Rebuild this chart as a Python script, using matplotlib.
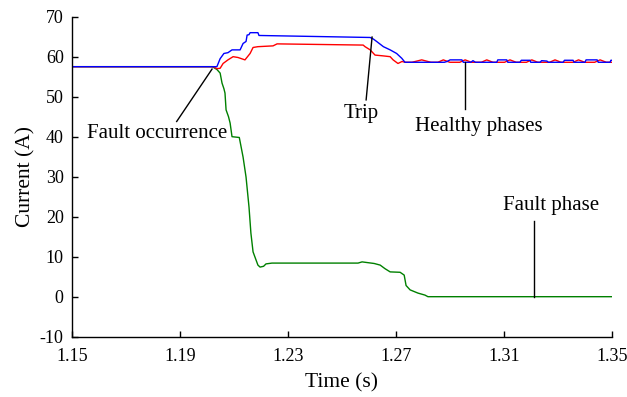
import matplotlib
matplotlib.use("Agg")
import matplotlib.pyplot as plt

plt.rcParams['font.family'] = ['Liberation Serif', 'DejaVu Serif']
plt.rcParams['axes.unicode_minus'] = False

# healthy phase A (blue)
t_blue = [1.15, 1.2037, 1.2049, 1.2063, 1.2078, 1.2093, 1.2123, 1.2134, 1.2145, 1.2149,
          1.2156, 1.2160, 1.2189, 1.2193, 1.2605, 1.2617, 1.2629, 1.2654, 1.2679, 1.2703,
          1.2722, 1.2734, 1.2880, 1.2890, 1.2901, 1.2945, 1.2950, 1.2978, 1.2986, 1.2995,
          1.3074, 1.3078, 1.3111, 1.3115, 1.3160, 1.3165, 1.3197, 1.3200, 1.3235, 1.3240,
          1.3260, 1.3265, 1.3320, 1.3325, 1.3357, 1.3360, 1.3401, 1.3405, 1.3446, 1.3450,
          1.3494, 1.3497, 1.3500]
i_blue = [57.5, 57.5, 59.5, 60.8, 61.0, 61.7, 61.7, 63.3, 63.8, 65.4,
          65.5, 66.0, 66.0, 65.3, 64.8, 64.4, 63.8, 62.5, 61.7, 60.8,
          59.6, 58.6, 58.6, 58.8, 59.2, 59.2, 58.6, 58.6, 59.0, 58.6,
          58.6, 59.2, 59.2, 58.6, 58.6, 59.1, 59.1, 58.6, 58.6, 59.0,
          58.9, 58.6, 58.6, 59.1, 59.1, 58.6, 58.6, 59.2, 59.2, 58.6,
          58.6, 59.1, 59.1]

# healthy phase B (red)
t_red = [1.15, 1.2023, 1.2037, 1.2049, 1.2060, 1.2078, 1.2097, 1.2115, 1.2141, 1.2160,
         1.2171, 1.2189, 1.2245, 1.2260, 1.2579, 1.2586, 1.2605, 1.2623, 1.2653, 1.2679,
         1.2690, 1.2708, 1.2723, 1.2734, 1.2760, 1.2796, 1.2830, 1.2856, 1.2876, 1.2900,
         1.2937, 1.2957, 1.2980, 1.3017, 1.3037, 1.3060, 1.3103, 1.3123, 1.3146, 1.3184,
         1.3204, 1.3226, 1.3270, 1.3290, 1.3312, 1.3357, 1.3377, 1.3400, 1.3437, 1.3457,
         1.3480, 1.3500]
i_red = [57.5, 57.5, 57.0, 57.1, 58.3, 59.2, 60.0, 59.8, 59.2, 60.8,
         62.3, 62.5, 62.7, 63.2, 62.9, 62.5, 61.7, 60.4, 60.2, 60.0,
         59.2, 58.3, 58.8, 58.6, 58.6, 59.2, 58.6, 58.6, 59.2, 58.6,
         58.6, 59.2, 58.6, 58.6, 59.2, 58.6, 58.6, 59.2, 58.6, 58.6,
         59.2, 58.6, 58.6, 59.2, 58.6, 58.6, 59.2, 58.6, 58.6, 59.2,
         58.6, 58.6]

# faulted phase (green)
t_green = [1.15, 1.2020, 1.2037, 1.2049, 1.2056, 1.2063, 1.2067, 1.2071, 1.2080, 1.2086,
           1.2093, 1.2120, 1.2134, 1.2145, 1.2156, 1.2163, 1.2171, 1.2189, 1.2197, 1.2210,
           1.2219, 1.2241, 1.2560, 1.2575, 1.2620, 1.2642, 1.2660, 1.2679, 1.2716, 1.2731,
           1.2738, 1.2753, 1.2782, 1.2808, 1.2819, 1.3500]
i_green = [57.5, 57.5, 56.8, 55.9, 53.4, 52.0, 50.9, 46.7, 45.0, 43.4,
           40.0, 39.8, 34.9, 29.9, 22.4, 15.9, 11.2, 7.9, 7.4, 7.6,
           8.2, 8.4, 8.4, 8.7, 8.3, 7.9, 7.0, 6.2, 6.1, 5.4,
           2.8, 1.7, 0.9, 0.4, 0.0, 0.0]

# labels: text, text position, leader line (t0, t1), (i0, i1)
labels = ["Fault occurrence", "Trip", "Healthy phases", "Fault phase"]
label_t = [1.1814, 1.2570, 1.3009, 1.3274]
label_i = [40.7, 45.8, 42.5, 22.9]
leader_t = [(1.1888, 1.2019), (1.2590, 1.2612), (1.2957, 1.2957), (1.3213, 1.3213)]
leader_i = [(43.8, 56.9), (49.2, 64.9), (46.9, 58.7), (18.8, 0.0)]

fig = plt.figure(figsize=(6.27, 3.97), dpi=100)
ax = fig.add_axes([0.1148, 0.1519, 0.8608, 0.8061])

ax.plot(t_green, i_green, color='#008000', lw=1.0)
ax.plot(t_red, i_red, color='#ff0000', lw=1.0)
ax.plot(t_blue, i_blue, color='#0000ff', lw=1.0)

for txt, tx, iy, lt, li in zip(labels, label_t, label_i, leader_t, leader_i):
    ax.plot(lt, li, color='black', lw=1.0)
    ax.text(tx, iy, txt, fontsize=15, ha='center', va='center')

ax.set_xlim(1.15, 1.35)
ax.set_ylim(-10, 70)
ax.set_xticks([1.15, 1.19, 1.23, 1.27, 1.31, 1.35])
ax.set_xticklabels(['1.15', '1.19', '1.23', '1.27', '1.31', '1.35'])
ax.set_yticks(range(-10, 71, 10))
ax.tick_params(direction='in', length=4, width=1.0, labelsize=13)
ax.tick_params(axis='x', pad=8)
ax.tick_params(axis='y', pad=6)
ax.spines['top'].set_visible(False)
ax.spines['right'].set_visible(False)
ax.spines['left'].set_linewidth(1.0)
ax.spines['bottom'].set_linewidth(1.0)
ax.set_xlabel('Time (s)', fontsize=15.5, labelpad=6)
ax.set_ylabel('Current (A)', fontsize=15.5, labelpad=3)

fig.savefig('out.png', dpi=100)
